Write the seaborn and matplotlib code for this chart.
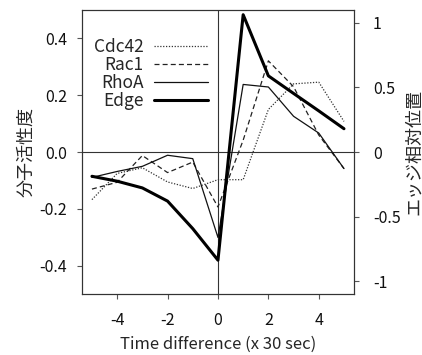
import numpy as np
import pandas as pd
import matplotlib
matplotlib.use("Agg")
import matplotlib.pyplot as plt
import seaborn as sns

# time offsets (x 30 sec)
time_diff = [-5, -4, -3, -2, -1, 0, 1, 2, 3, 4, 5]

# molecular activity (left axis)
cdc42 = [-0.167, -0.075, -0.055, -0.105, -0.128, -0.097, -0.097, 0.150, 0.240, 0.246, 0.108]
rac1 = [-0.130, -0.106, -0.012, -0.072, -0.035, -0.193, 0.042, 0.321, 0.230, 0.060, -0.058]
rhoa = [-0.089, -0.068, -0.050, -0.011, -0.023, -0.300, 0.238, 0.229, 0.126, 0.067, -0.058]

# relative edge position (right axis)
edge = [-0.187, -0.225, -0.277, -0.379, -0.592, -0.836, 1.063, 0.590, 0.454, 0.319, 0.181]

sns.set_theme(style="white")
plt.rcParams["font.family"] = ["Noto Sans CJK JP", "DejaVu Sans"]

df = pd.DataFrame({"t": time_diff, "Cdc42": cdc42, "Rac1": rac1, "RhoA": rhoa, "Edge": edge})

fig = plt.figure(figsize=(4.22, 3.55), dpi=100)
ax = fig.add_axes([0.194, 0.171, 0.645, 0.801])
ax2 = ax.twinx()

sns.lineplot(data=df, x="t", y="Cdc42", ax=ax, color="#333333", lw=0.9,
             linestyle=(0, (1, 1.3)), label="Cdc42", legend=False)
sns.lineplot(data=df, x="t", y="Rac1", ax=ax, color="#222222", lw=0.9,
             linestyle=(0, (4, 2.5)), label="Rac1", legend=False)
sns.lineplot(data=df, x="t", y="RhoA", ax=ax, color="#111111", lw=0.9,
             label="RhoA", legend=False)
sns.lineplot(data=df, x="t", y="Edge", ax=ax2, color="black", lw=2.2,
             label="Edge", legend=False)

ax.axhline(0, color="#333333", lw=0.8, zorder=0)
ax.axvline(0, color="#333333", lw=0.8, zorder=0)

ax.set_xlim(-5.4, 5.4)
ax.set_ylim(-0.5, 0.5)
ax2.set_ylim(-1.1, 1.1)
ax.set_xticks([-4, -2, 0, 2, 4])
ax.set_yticks([-0.4, -0.2, 0.0, 0.2, 0.4])
ax.set_yticklabels(["-0.4", "-0.2", "0.0", "0.2", "0.4"])
ax.set_xticklabels(["-4", "-2", "0", "2", "4"])
ax2.set_yticks([-1, -0.5, 0, 0.5, 1])
ax2.set_yticklabels(["-1", "-0.5", "0", "0.5", "1"])

for a in (ax, ax2):
    for s in a.spines.values():
        s.set_color("#333333")
        s.set_linewidth(0.8)
    a.tick_params(axis="both", which="both", direction="out", length=3.5, width=0.8,
                  color="#555555", labelsize=11.5, labelcolor="#111111")
ax.tick_params(axis="x", bottom=True, pad=9.5)
ax.tick_params(axis="y", left=True, pad=7)
ax2.tick_params(axis="y", right=True, pad=10)

ax.set_xlabel("Time difference (x 30 sec)", fontsize=12, labelpad=5)
ax.set_ylabel("分子活性度", fontsize=13, labelpad=3)
ax2.set_ylabel("エッジ相対位置", fontsize=13, labelpad=3)

handles = ax.get_lines()[:3] + ax2.get_lines()[:1]
ax.legend(handles, ["Cdc42", "Rac1", "RhoA", "Edge"], loc="upper left",
          bbox_to_anchor=(0.0, 0.943), frameon=False, markerfirst=False,
          fontsize=12.5, handlelength=3.1, handletextpad=0.6, labelspacing=0.0,
          borderaxespad=0.3)

fig.savefig("out.png", dpi=100)
